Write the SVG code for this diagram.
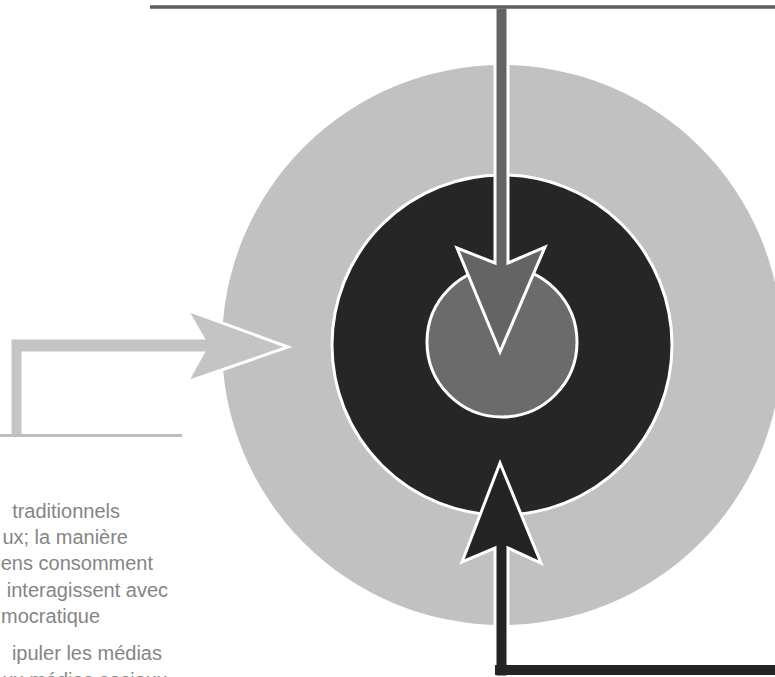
<svg xmlns="http://www.w3.org/2000/svg" width="775" height="677" viewBox="0 0 775 677">
  <style>
    .outer { fill: #c1c1c1; }
    .middle { fill: #262626; stroke: #ffffff; stroke-width: 3; }
    .core { fill: #6b6b6b; stroke: #ffffff; stroke-width: 3; }
    .conn { stroke: #ffffff; stroke-width: 3; stroke-linejoin: miter; }
    .txt { font-family: "Liberation Sans", Arial, sans-serif; font-size: 20px; fill: #858585; text-anchor: end; }
  </style>
  <rect width="775" height="677" fill="#ffffff"/>
  <g id="outer-ring">
    <circle class="outer" cx="502" cy="345" r="280"/>
  </g>
  <g id="middle-ring">
    <circle class="middle" cx="502" cy="345" r="170"/>
  </g>
  <g id="core">
    <circle class="core" cx="502" cy="342" r="75"/>
  </g>
  <g id="connectors">
    <path class="conn" fill="#646464" d="M495,7 L495,263 L457,248 L500,352 L545,247 L508,263 L508,7 Z"/>
    <line x1="150" y1="7" x2="775" y2="7" stroke="#5e5e5e" stroke-width="3.5"/>
    <path class="conn" fill="#242424" d="M495,677 L495,548 L462,562 L500,463 L541,563 L508,548 L508,677 Z"/>
    <rect x="495" y="665" width="280" height="10" fill="#242424"/>
    <path class="conn" fill="#c4c4c4" d="M10,437 L10,338 L203,338 L187,310 L288,347 L187,382 L203,353 L23,353 L23,437 Z"/>
    <line x1="0" y1="435.5" x2="182" y2="435.5" stroke="#bdbdbd" stroke-width="3"/>
  </g>
  <g id="caption" class="txt">
    <text x="120" y="518">traditionnels</text>
    <text x="128" y="544">ux; la manière</text>
    <text x="153" y="570">ens consomment</text>
    <text x="168" y="597">interagissent avec</text>
    <text x="100" y="623">mocratique</text>
    <text x="162" y="660">ipuler les médias</text>
    <text x="167" y="687">ux médias sociaux</text>
  </g>
</svg>
